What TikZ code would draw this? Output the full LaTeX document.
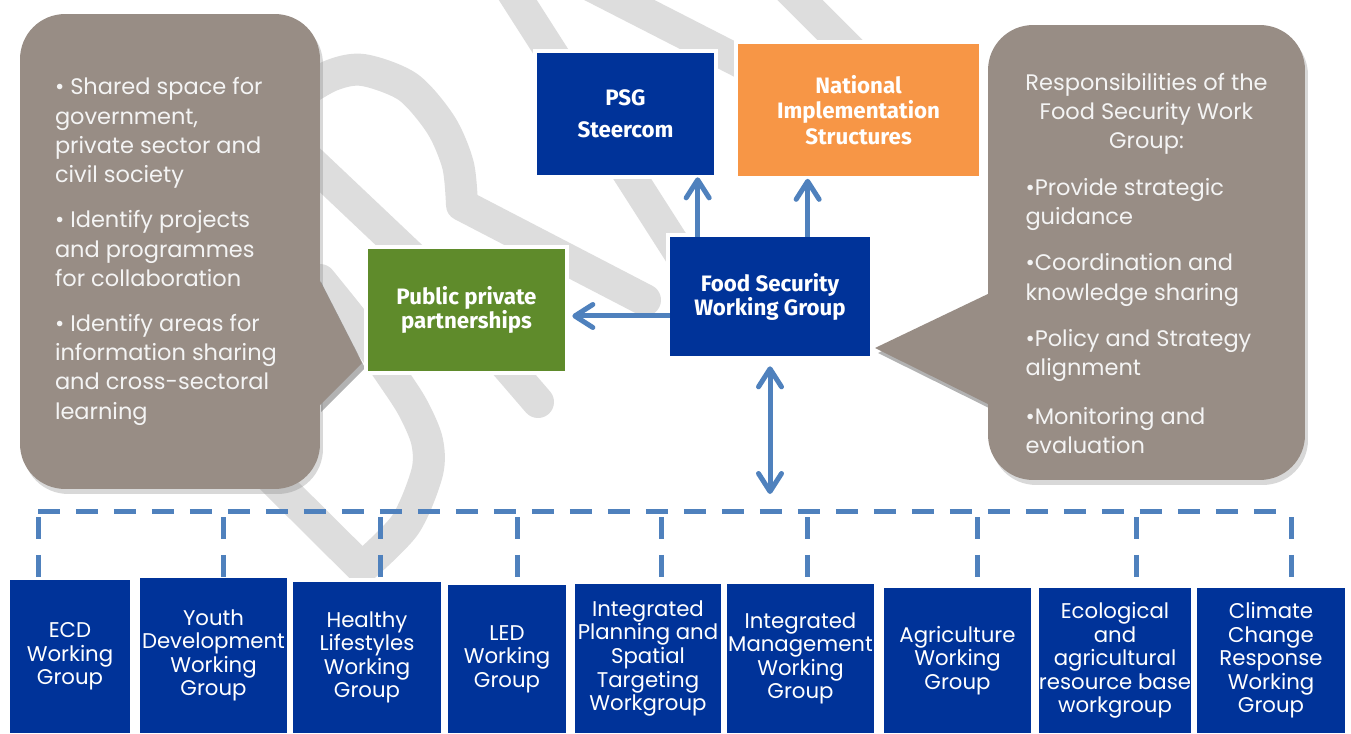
\documentclass[tikz,border=0pt]{standalone}
\usepackage{fontspec}
\newfontfamily\labelfont{Fira Sans}
\newfontfamily\gothic{Poppins}
\newcommand\gothicfont[2]{\gothic\fontsize{#1}{#2}\selectfont}
\usetikzlibrary{arrows.meta,shadows}
\definecolor{psgblue}{RGB}{0,51,153}
\definecolor{nisorange}{RGB}{247,150,70}
\definecolor{pppgreen}{RGB}{95,139,43}
\definecolor{notegray}{RGB}{152,141,133}
\definecolor{notetext}{RGB}{244,244,244}
\definecolor{linkblue}{RGB}{79,129,189}
\definecolor{wmgray}{RGB}{221,221,221}
\tikzset{barb/.tip={Straight Barb[round,length=0.36cm,width=0.46cm]}}
\begin{document}
\begin{tikzpicture}[x=0.02cm,y=-0.02cm,
  wmark/.style={wmgray,line width=0.64cm,line cap=round,line join=round},
  notebox/.style={fill=notegray,rounded corners=0.9cm,text=notetext,inner sep=0pt,
    font=\gothicfont{12.8}{16.7},align=left,
    drop shadow={shadow xshift=0.06cm,shadow yshift=-0.1cm,opacity=0.3}},
  fsbox/.style={rectangle,inner sep=0pt,text=white,align=center,
    preaction={draw=white,line width=0.16cm}},
  headbox/.style={fsbox,font=\labelfont\bfseries\fontsize{12.7}{#1}\selectfont},
  wgbox/.style={fsbox,fill=psgblue,font=\gothicfont{12.1}{13.4}},
  linkarrow/.style={linkblue,line width=0.1cm},
  busline/.style={linkblue,line width=0.1cm,dash pattern=on 0.44cm off 0.32cm}]
\fill[white] (0,0) rectangle (1351,733);
\useasboundingbox (0,0) rectangle (1351,733);
% watermark
\draw[wmark] (505,-20) -- (700,285);
\draw[wmark] (590,-15) -- (760,72);
\draw[wmark] (775,-25) -- (875,75);
\draw[wmark] plot[smooth] coordinates {(290,100) (330,76) (363,70) (408,87) (441,125) (458,165) (462,205)} -- (645,300);
\draw[wmark] (290,142) -- (420,265) -- (538,402);
\draw[wmark] (200,407) -- (362,568) -- plot[smooth] coordinates {(362,568) (405,525) (427,473) (427,441) (413,408) (393,377) (360,330) (320,280)};
% callouts
\fill[black,opacity=0.3,shift={(3,5)}] (318,277) -- (362,363) -- (318,407) -- cycle;
\fill[black,opacity=0.3,shift={(3,5)}] (990,293) -- (875,348) -- (990,405) -- cycle;
\node[notebox,minimum width=6cm,minimum height=9.5cm] (leftnote) at (170,251.5)
  {\makebox[4.6cm][l]{\textbullet\ Shared space for}\\government,\\private sector and\\civil society\\[0.31cm]
   \textbullet\ Identify projects\\and programmes\\for collaboration\\[0.31cm]
   \textbullet\ Identify areas for\\information sharing\\and cross-sectoral\\learning};
\node[notebox,minimum width=6.34cm,minimum height=9.1cm] (rightnote) at (1146.5,252.5)
  {\makebox[4.84cm]{\rule{0pt}{0.78cm}Responsibilities of the}\\\makebox[4.84cm]{Food Security Work}\\\makebox[4.84cm]{Group:}\\[0.34cm]
   \textbullet Provide strategic\\guidance\\[0.34cm]
   \textbullet Coordination and\\knowledge sharing\\[0.34cm]
   \textbullet Policy and Strategy\\alignment\\[0.38cm]
   \textbullet Monitoring and\\evaluation};
\fill[notegray] (318,277) -- (362,363) -- (318,407) -- cycle;
\fill[notegray] (990,293) -- (875,348) -- (990,405) -- cycle;
% structures
\node[headbox=18.2,fill=psgblue,minimum width=3.54cm,minimum height=2.44cm] (psg) at (625.5,114) {PSG\\Steercom};
\node[headbox=14.5,fill=nisorange,minimum width=4.82cm,minimum height=2.66cm] (nis) at (858.5,110) {National\\Implementation\\Structures};
\node[headbox=13.7,fill=psgblue,minimum width=4cm,minimum height=2.38cm] (fswg) at (770,296.5) {Food Security\\Working Group};
\node[headbox=13.1,fill=pppgreen,minimum width=3.94cm,minimum height=2.44cm] (ppp) at (466.5,310) {Public private\\partnerships};
\foreach \nm/\cx/\w/\yt/\txt in {
  ecd/70/2.4/580/{ECD\\Working\\Group},
  youth/213.5/2.94/578/{Youth\\Development\\Working\\Group},
  healthy/367/2.96/582/{Healthy\\Lifestyles\\Working\\Group},
  led/507/2.36/585/{LED\\Working\\Group},
  ipst/648/2.92/584/{Integrated\\Planning and\\Spatial\\Targeting\\Workgroup},
  imwg/800.5/2.94/584/{Integrated\\Management\\Working\\Group},
  agri/957.5/2.94/588/{Agriculture\\Working\\Group},
  eco/1115/2.96/588/{Ecological\\and\\agricultural\\resource base\\workgroup},
  climate/1271/2.96/588/{Climate\\Change\\Response\\Working\\Group}}
  \node[wgbox,minimum width=\w cm,minimum height={(733-\yt)*0.02cm}] (\nm) at (\cx,{(733+\yt)/2}) {\txt};
% links
\coordinate (busleft) at (38,511);
\coordinate (busright) at (1291,511);
\draw[busline] (busleft) -- (busright);
\foreach \dx/\nm in {38/ecd,223/youth,380/healthy,517/led,661/ipst,807/imwg,977/agri,1136/eco,1291/climate}{
  \coordinate (drop\nm) at (\dx,517);
  \draw[busline] (drop\nm) -- (drop\nm |- \nm.north);}
\coordinate (psgfoot) at ([xshift=0.56cm]fswg.north west);
\coordinate (nisfoot) at ([xshift=2.76cm]fswg.north west);
\coordinate (pppfoot) at ([yshift=-0.39cm]fswg.west);
\coordinate (fswgfoot) at ([yshift=-0.2cm]fswg.south);
\draw[linkarrow,-barb,shorten >=0.04cm] (psgfoot) -- (psgfoot |- psg.south);
\draw[linkarrow,-barb,shorten >=0.04cm] (nisfoot) -- (nisfoot |- nis.south);
\draw[linkarrow,-barb,shorten >=0.14cm] (pppfoot) -- (pppfoot -| ppp.east);
\draw[linkarrow,barb-barb,shorten >=0.34cm] (fswgfoot) -- (fswgfoot |- busleft);
\end{tikzpicture}
\end{document}
